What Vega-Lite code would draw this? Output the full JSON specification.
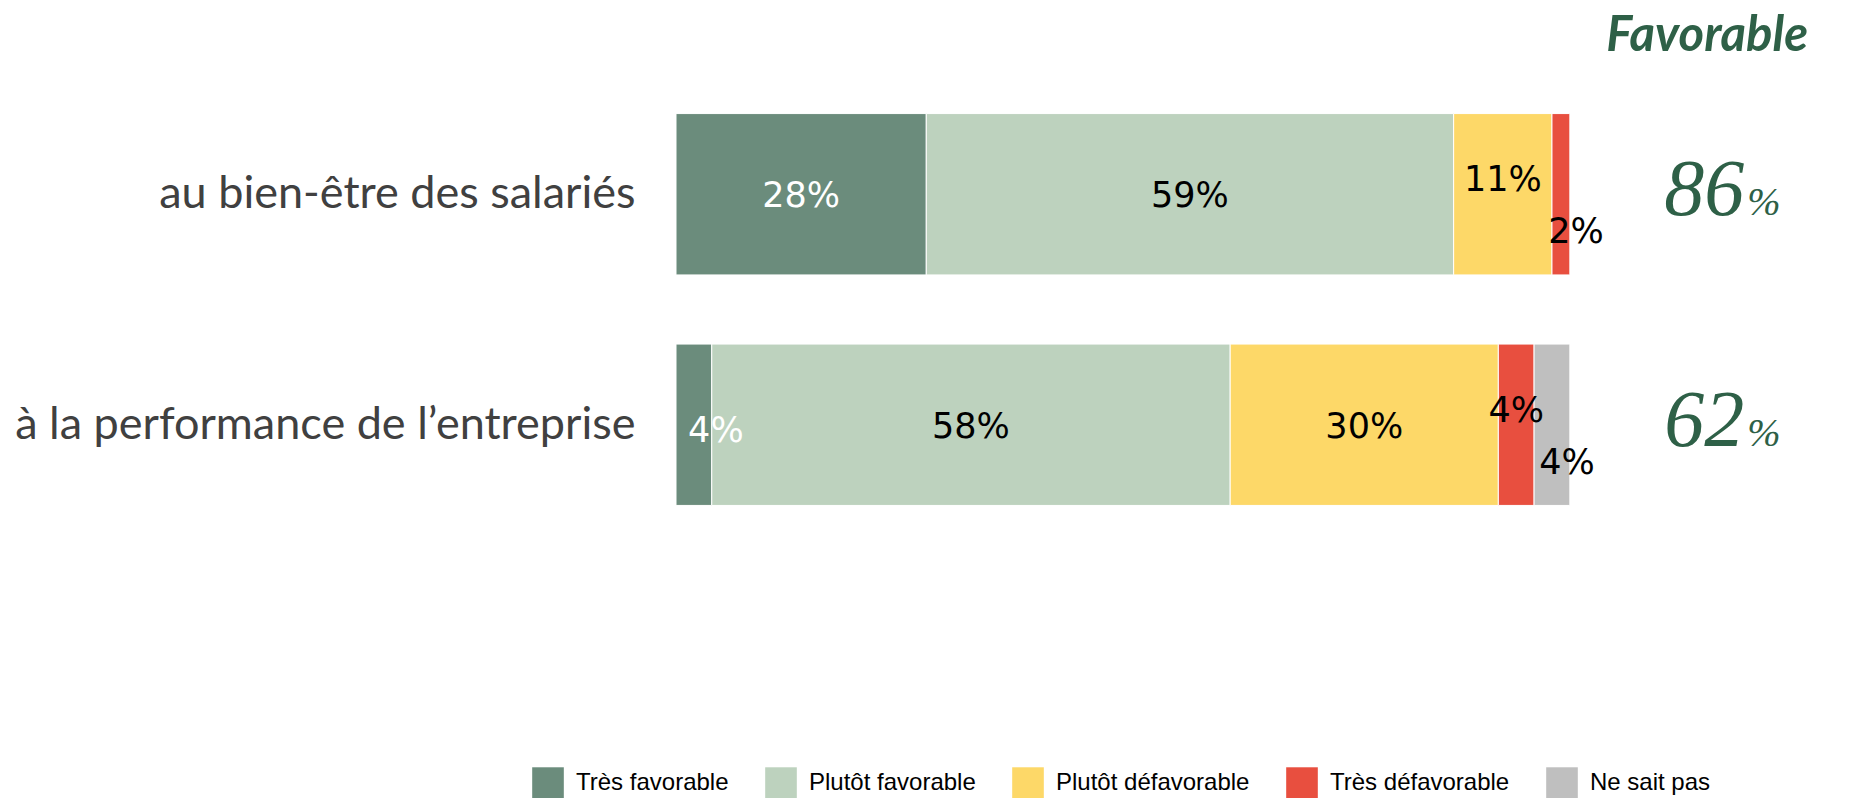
{
  "$schema": "https://vega.github.io/schema/vega-lite/v6.json",
  "width": 1162,
  "height": 461,
  "autosize": {"type": "none"},
  "padding": {"left": 676, "top": 79, "right": 17, "bottom": 258},
  "background": "white",
  "title": {
    "text": "Favorable",
    "anchor": "end",
    "frame": "group",
    "font": "Lato",
    "fontSize": 49,
    "fontStyle": "italic",
    "fontWeight": "bold",
    "color": "#2E6047",
    "offset": 18,
    "dx": -30
  },
  "config": {"view": {"stroke": null}},
  "datasets": {
    "main": [
      {"item": "au bien-être des salariés", "cat": "Très favorable", "ordre": 1, "value": 0.28},
      {"item": "au bien-être des salariés", "cat": "Plutôt favorable", "ordre": 2, "value": 0.59},
      {"item": "au bien-être des salariés", "cat": "Plutôt défavorable", "ordre": 3, "value": 0.11},
      {"item": "au bien-être des salariés", "cat": "Très défavorable", "ordre": 4, "value": 0.02},
      {"item": "à la performance de l’entreprise", "cat": "Très favorable", "ordre": 1, "value": 0.04},
      {"item": "à la performance de l’entreprise", "cat": "Plutôt favorable", "ordre": 2, "value": 0.58},
      {"item": "à la performance de l’entreprise", "cat": "Plutôt défavorable", "ordre": 3, "value": 0.30},
      {"item": "à la performance de l’entreprise", "cat": "Très défavorable", "ordre": 4, "value": 0.04},
      {"item": "à la performance de l’entreprise", "cat": "Ne sait pas", "ordre": 5, "value": 0.04}
    ],
    "fav": [
      {"item": "au bien-être des salariés", "fav": 86},
      {"item": "à la performance de l’entreprise", "fav": 62}
    ]
  },
  "layer": [
    {
      "data": {"name": "main"},
      "mark": {"type": "bar", "stroke": "white", "strokeWidth": 1},
      "encoding": {
        "y": {
          "field": "item", "type": "nominal",
          "sort": ["au bien-être des salariés", "à la performance de l’entreprise"],
          "scale": {"paddingInner": 0.3, "paddingOuter": 0.15},
          "axis": {"title": null, "domain": false, "ticks": false, "labelFont": "Lato", "labelFontSize": 45, "labelColor": "#404040", "labelPadding": 41, "labelLimit": 700}
        },
        "x": {"field": "value", "type": "quantitative", "stack": "zero", "scale": {"domain": [0, 1.3], "nice": false}, "axis": null},
        "order": {"field": "ordre", "type": "quantitative"},
        "color": {
          "field": "cat", "type": "nominal",
          "scale": {
            "domain": ["Très favorable", "Plutôt favorable", "Plutôt défavorable", "Très défavorable", "Ne sait pas"],
            "range": ["#6B8C7C", "#BDD2BE", "#FDD868", "#E84F3F", "#BFBFBF"]
          },
          "legend": {
            "orient": "none", "legendX": -144, "legendY": 688, "direction": "horizontal",
            "title": null, "symbolType": "square", "symbolSize": 1000, "symbolStrokeWidth": 0,
            "labelFont": "Liberation Sans", "labelFontSize": 24, "labelColor": "#000000",
            "columnPadding": 36, "labelOffset": 12, "padding": 0, "labelLimit": 300
          }
        }
      }
    },
    {
      "data": {"name": "main"},
      "mark": {"type": "text", "font": "DejaVu Sans", "fontSize": 35, "baseline": "middle", "dy": 2},
      "encoding": {
        "y": {"field": "item", "type": "nominal", "sort": ["au bien-être des salariés", "à la performance de l’entreprise"]},
        "x": {"field": "value", "type": "quantitative", "stack": "zero", "bandPosition": 0.5},
        "order": {"field": "ordre", "type": "quantitative"},
        "text": {
          "condition": {"test": "(datum.item === 'au bien-être des salariés' && (datum.cat === 'Très favorable' || datum.cat === 'Plutôt favorable')) || (datum.item !== 'au bien-être des salariés' && (datum.cat === 'Plutôt favorable' || datum.cat === 'Plutôt défavorable'))", "field": "value", "format": ".0%"},
          "value": ""
        },
        "color": {"condition": {"test": "datum.cat === 'Très favorable'", "value": "white"}, "value": "black"}
      }
    },
    {
      "data": {"name": "main"},
      "mark": {"type": "text", "font": "DejaVu Sans", "fontSize": 35, "baseline": "middle", "dy": -14},
      "encoding": {
        "y": {"field": "item", "type": "nominal", "sort": ["au bien-être des salariés", "à la performance de l’entreprise"]},
        "x": {"field": "value", "type": "quantitative", "stack": "zero", "bandPosition": 0.5},
        "order": {"field": "ordre", "type": "quantitative"},
        "text": {
          "condition": {"test": "(datum.item === 'au bien-être des salariés' && datum.cat === 'Plutôt défavorable') || (datum.item !== 'au bien-être des salariés' && datum.cat === 'Très défavorable')", "field": "value", "format": ".0%"},
          "value": ""
        },
        "color": {"value": "black"}
      }
    },
    {
      "data": {"name": "main"},
      "mark": {"type": "text", "font": "DejaVu Sans", "fontSize": 35, "baseline": "middle", "dy": 38, "dx": 15},
      "encoding": {
        "y": {"field": "item", "type": "nominal", "sort": ["au bien-être des salariés", "à la performance de l’entreprise"]},
        "x": {"field": "value", "type": "quantitative", "stack": "zero", "bandPosition": 0.5},
        "order": {"field": "ordre", "type": "quantitative"},
        "text": {
          "condition": {"test": "datum.cat === 'Ne sait pas' || (datum.item === 'au bien-être des salariés' && datum.cat === 'Très défavorable')", "field": "value", "format": ".0%"},
          "value": ""
        },
        "color": {"value": "black"}
      }
    },
    {
      "data": {"name": "main"},
      "mark": {"type": "text", "font": "DejaVu Sans", "fontSize": 35, "baseline": "middle", "dy": 6, "dx": 22},
      "encoding": {
        "y": {"field": "item", "type": "nominal", "sort": ["au bien-être des salariés", "à la performance de l’entreprise"]},
        "x": {"field": "value", "type": "quantitative", "stack": "zero", "bandPosition": 0.5},
        "order": {"field": "ordre", "type": "quantitative"},
        "text": {
          "condition": {"test": "datum.item !== 'au bien-être des salariés' && datum.cat === 'Très favorable'", "field": "value", "format": ".0%"},
          "value": ""
        },
        "color": {"value": "white"}
      }
    },
    {
      "data": {"name": "fav"},
      "mark": {"type": "text", "font": "Liberation Serif", "fontStyle": "italic", "fontSize": 80, "align": "right", "baseline": "alphabetic", "dy": 21, "color": "#2E6047"},
      "encoding": {
        "y": {"field": "item", "type": "nominal", "sort": ["au bien-être des salariés", "à la performance de l’entreprise"]},
        "x": {"datum": 1.195, "type": "quantitative"},
        "text": {"field": "fav", "type": "quantitative", "format": "d"}
      }
    },
    {
      "data": {"name": "fav"},
      "mark": {"type": "text", "font": "Liberation Serif", "fontStyle": "italic", "fontSize": 40, "align": "left", "baseline": "alphabetic", "dy": 21, "dx": 3, "color": "#2E6047"},
      "encoding": {
        "y": {"field": "item", "type": "nominal", "sort": ["au bien-être des salariés", "à la performance de l’entreprise"]},
        "x": {"datum": 1.195, "type": "quantitative"},
        "text": {"value": "%"}
      }
    }
  ]
}
